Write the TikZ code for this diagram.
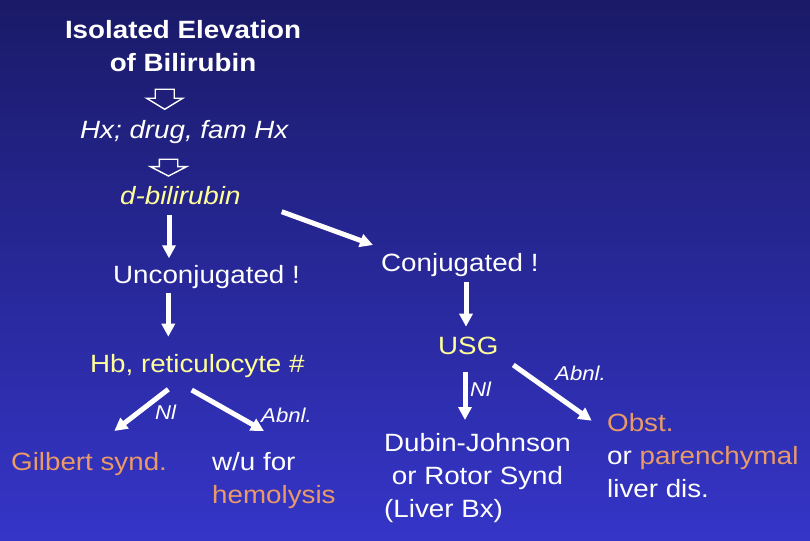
\documentclass[tikz,border=0pt]{standalone}
\usepackage{fontspec}
\setmainfont{Liberation Sans}[FakeStretch=1.11]
\usetikzlibrary{arrows.meta,positioning,calc}
\definecolor{bgtop}{HTML}{1A1A68}
\definecolor{bgbot}{HTML}{3535C8}
\definecolor{myell}{HTML}{FFFF99}
\definecolor{morng}{HTML}{EA9A66}
\tikzset{
  every node/.style={inner sep=0pt, text=white, font=\fontsize{25}{32.7}\selectfont},
  txt/.style ={anchor=base west},
  ttl/.style ={anchor=base, align=center, font=\fontsize{25}{33.4}\selectfont\bfseries},
  hl/.style  ={text=myell},
  dx/.style  ={text=morng},
  ital/.style={font=\fontsize{25}{32.7}\selectfont\itshape},
  lbl/.style ={anchor=base west, font=\fontsize{20}{24}\selectfont\itshape},
  ar/.style  ={-{Triangle[length=13pt,width=13pt]}, line width=5pt, draw=white},
  hol/.style ={draw=white, line width=1.4pt, line join=miter},
}
\begin{document}
\begin{tikzpicture}[x=1pt, y=-1pt]

\shade[top color=bgtop, bottom color=bgbot] (0,0) rectangle (810,540);
\useasboundingbox (0,0) rectangle (810,540);

% multi-line nodes sit on the baseline of their last line
\node[ttl] (title) at (183,71.7) {Isolated Elevation\\of Bilirubin};
\node[txt, ital] (hx) at (80,138.3) {Hx; drug, fam Hx};
\node[txt, ital, hl] (dbil) at (120,204) {d-bilirubin};

\node[txt] (unconj) at (113,283.3) {Unconjugated !};
\node[txt, hl] (hb) at (90,372.7) {Hb, reticulocyte \#};
\node[txt, dx] (gilb) at (11,470.7) {Gilbert synd.};
\node[txt, align=left] (wu) at (212,503.3) {w/u for\\\textcolor{morng}{hemolysis}};
\node[lbl] (nl1) at (155,419.3) {Nl};
\node[lbl] (ab1) at (261,422.7) {Abnl.};

\node[txt] (conj) at (381,271.7) {Conjugated !};
\node[txt, hl] (usg) at (438,354.3) {USG};
\node[txt, align=left] (dubin) at (384,517.1) {Dubin-Johnson\\\ or Rotor Synd\\(Liver Bx)};
\node[txt, align=left] (obst) at (607,497.1)
  {\textcolor{morng}{Obst.}\\or \textcolor{morng}{parenchymal}\\liver dis.};
\node[lbl] (nl2) at (470,396.7) {Nl};
\node[lbl] (ab2) at (555,380.7) {Abnl.};

% hollow block arrows
\coordinate (h1) at (164.7,89.3);
\coordinate (h2) at (168.5,159.3);
\draw[hol] (h1) ++(-9.5,0) -- ++(19,0) -- ++(0,9) -- ++(8.5,0) -- ++(-18,11)
  -- ++(-18,-11) -- ++(8.5,0) -- cycle;
\draw[hol] (h2) ++(-9.2,0) -- ++(18.4,0) -- ++(0,7.4) -- ++(8.8,0) -- ++(-18,9.3)
  -- ++(-18,-9.3) -- ++(8.8,0) -- cycle;

\draw[ar] ($(dbil.base west)+(49,11)$) -- ($(unconj.base west)+(56,-25)$);
\draw[ar] ($(dbil.base west)+(161.7,7.7)$) -- ($(conj.base west)+(-8,-26.7)$);
\draw[ar] ($(unconj.base west)+(55.3,10)$) -- ($(hb.base west)+(78.3,-36)$);
\draw[ar] ($(hb.base west)+(78.3,16.6)$) -- ($(gilb.base west)+(103.3,-39.7)$);
\draw[ar] ($(hb.base west)+(101.7,17.3)$) -- ($(wu.base west)+(52,-72.3)$);
\draw[ar] ($(conj.base west)+(85,10)$) -- ($(usg.base west)+(28,-27.6)$);
\draw[ar] ($(usg.base west)+(27,17.4)$) -- ($(dubin.base west)+(81,-97.1)$);
\draw[ar] ($(usg.base west)+(75.3,10.7)$) -- ($(obst.base west)+(-15.3,-76.4)$);

\end{tikzpicture}
\end{document}
